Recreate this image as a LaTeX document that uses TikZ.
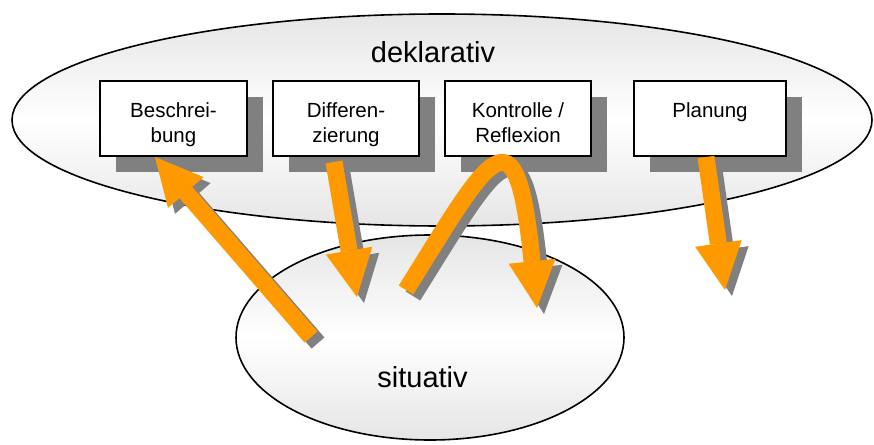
\documentclass[tikz,border=0pt]{standalone}
\usepackage{fontspec}
\setmainfont{Liberation Sans}
\usetikzlibrary{arrows.meta,shadows}
\definecolor{arrorange}{HTML}{FF9900}
\definecolor{shadowgray}{HTML}{808080}
\begin{document}
\begin{tikzpicture}[x=1pt,y=-1pt,
  ell/.style={draw=black, line width=1.6pt, top color=black!10, bottom color=black!10, middle color=white},
  boxnode/.style={draw=black, line width=1.6pt, fill=white, inner sep=0pt, outer sep=0pt,
    minimum height=75pt,
    drop shadow={shadow xshift=16pt, shadow yshift=-16pt, opacity=1, fill=shadowgray}},
  boxtxt/.style={anchor=north, inner sep=0pt, align=center, font=\fontsize{20.5}{25}\selectfont},
  bigtxt/.style={anchor=base, inner sep=0pt, font=\fontsize{29}{34}\selectfont},
  bigarrow/.style={line width=17pt, line cap=butt,
    -{Triangle[width=47pt,length=47pt,line width=0pt]}},
  arrmain/.style={bigarrow, draw=arrorange},
  arrshadow/.style={bigarrow, draw=shadowgray, transform canvas={shift={(7pt,-6pt)}}}
]
\useasboundingbox (0,0) rectangle (874,444);
% ellipses
\draw[ell] (442,120) ellipse [x radius=430, y radius=106];
\draw[ell] (430,337.5) ellipse [x radius=194, y radius=102.5];
\node[bigtxt] (dekl) at (433,63) {deklarativ};
\node[bigtxt] (sit) at (422.5,387) {situativ};
% boxes
\node[boxnode, minimum width=147pt] (b1) at (173.5,118.5) {};
\node[boxnode, minimum width=146pt] (b2) at (346,118.5) {};
\node[boxnode, minimum width=146pt] (b3) at (518,118.5) {};
\node[boxnode, minimum width=152pt] (b4) at (710,118.5) {};
\node[boxtxt] (t1) at (173.5,102) {Beschrei-\\bung};
\node[boxtxt] (t2) at (346,102) {Differen-\\zierung};
\node[boxtxt] (t3) at (518,102) {Kontrolle /\\Reflexion};
\node[boxtxt] (t4) at (710,102) {Planung};
% arrow coordinates
\coordinate (a1t) at (311,337); \coordinate (a1h) at (155,157);
\coordinate (a2t) at (334,162); \coordinate (a2h) at (357,297);
\coordinate (a3t) at (406,290); \coordinate (a3b) at (532,261); \coordinate (a3h) at (537,308);
\coordinate (a4t) at (706,157); \coordinate (a4h) at (725,290);
% arrow shadows
\draw[arrshadow] (a1t) -- (a1h);
\draw[arrshadow] (a2t) -- (a2h);
\draw[arrshadow] (a3t) .. controls (491,154) and (516,101) .. (a3b) -- (a3h);
\draw[arrshadow] (a4t) -- (a4h);
% arrows
\draw[arrmain] (a1t) -- (a1h);
\draw[arrmain] (a2t) -- (a2h);
\draw[arrmain] (a3t) .. controls (491,154) and (516,101) .. (a3b) -- (a3h);
\draw[arrmain] (a4t) -- (a4h);
\end{tikzpicture}
\end{document}
